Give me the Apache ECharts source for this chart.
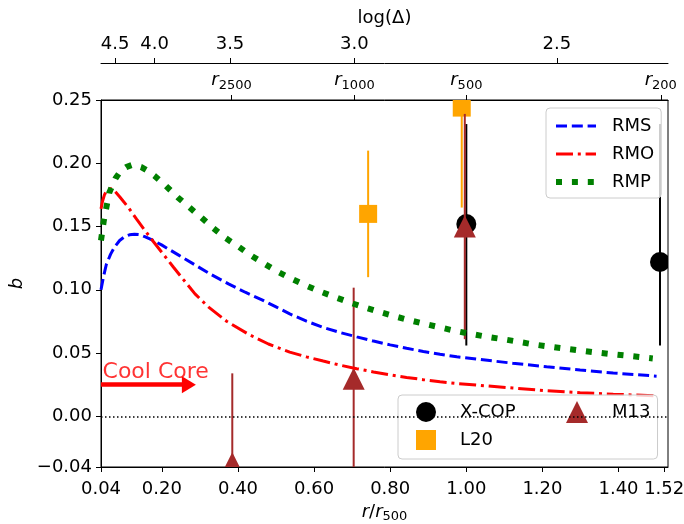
<!DOCTYPE html>
<html><head><meta charset="utf-8">
<script src="https://cdn.jsdelivr.net/npm/echarts@6/dist/echarts.min.js"></script>
<style>html,body{margin:0;padding:0;background:#fff}#c{width:684px;height:524px}</style>
</head><body><div id="c"></div>
<script>
// ---- data ----
const rmsX = [0.040,0.047,0.054,0.065,0.076,0.089,0.102,0.115,0.128,0.141,0.155,0.177,0.199,0.243,0.287,0.331,0.375,0.419,0.463,0.500,0.536,0.580,0.624,0.668,0.712,0.756,0.800,0.843,0.887,0.931,0.975,1.035,1.122,1.211,1.299,1.386,1.500];
const rmsY = [0.100,0.111,0.120,0.128,0.134,0.139,0.142,0.1435,0.144,0.1436,0.142,0.139,0.1355,0.1276,0.1197,0.1118,0.1047,0.0981,0.0921,0.0865,0.0810,0.0752,0.0703,0.0663,0.0628,0.0595,0.0565,0.0538,0.0513,0.0491,0.0471,0.0450,0.0420,0.0392,0.0366,0.0343,0.0318];
const rmoX = [0.040,0.044,0.049,0.056,0.065,0.076,0.089,0.112,0.134,0.156,0.178,0.204,0.230,0.256,0.287,0.322,0.370,0.430,0.480,0.536,0.580,0.624,0.668,0.712,0.756,0.800,0.843,0.887,0.931,0.975,1.035,1.122,1.211,1.299,1.386,1.500];
const rmoY = [0.164,0.170,0.175,0.179,0.180,0.178,0.1736,0.165,0.1557,0.1467,0.138,0.128,0.118,0.1083,0.0968,0.0865,0.0752,0.0645,0.0572,0.0508,0.0470,0.0437,0.0405,0.0377,0.0351,0.0328,0.0308,0.0290,0.0274,0.0260,0.0245,0.0224,0.0203,0.0187,0.0175,0.0163];
const rmpX = [0.040,0.047,0.054,0.062,0.078,0.092,0.106,0.125,0.146,0.163,0.181,0.211,0.242,0.273,0.304,0.334,0.367,0.402,0.435,0.470,0.505,0.542,0.578,0.617,0.657,0.695,0.734,0.774,0.813,0.853,0.892,0.933,0.973,1.015,1.052,1.096,1.136,1.178,1.220,1.261,1.301,1.342,1.384,1.424,1.465,1.490];
const rmpY = [0.139,0.154,0.165,0.177,0.188,0.194,0.197,0.199,0.197,0.194,0.190,0.182,0.173,0.165,0.157,0.149,0.141,0.134,0.127,0.1205,0.1142,0.1085,0.1035,0.0985,0.0940,0.0898,0.086,0.0823,0.079,0.0758,0.073,0.0702,0.0674,0.065,0.063,0.061,0.059,0.0568,0.0551,0.0535,0.0520,0.0505,0.0491,0.0479,0.0466,0.0458];

const xcopX = [1.000, 1.509];
const xcopY = [0.152, 0.122];
const xcopMinus = [0.096, 0.066];
const xcopPlus = [0.079, 0.109];

const l20X = [0.742, 0.988];
const l20Y = [0.160, 0.244];
const l20Minus = [0.050, 0.079];
const l20Plus = [0.050, 0.079];

const m13X = [0.385, 0.704, 0.996];
const m13Y = [-0.037, 0.0297, 0.150];
const m13Minus = [0.071, 0.072, 0.089];
const m13Plus = [0.071, 0.072, 0.089];

const xTickVals = [0.04, 0.20, 0.40, 0.60, 0.80, 1.00, 1.20, 1.40, 1.52];
const xTickLabels = ['0.04','0.20','0.40','0.60','0.80','1.00','1.20','1.40','1.52'];
const yTickVals = [-0.04, 0.00, 0.05, 0.10, 0.15, 0.20, 0.25];
const yTickLabels = ['\u22120.04','0.00','0.05','0.10','0.15','0.20','0.25'];
const logTickPos = [0.077, 0.181, 0.379, 0.706, 1.238];
const logTickLabels = ['4.5','4.0','3.5','3.0','2.5'];
const rTickPos = [0.383, 0.706, 1.000, 1.511];
const rTickLabels = ['2500','1000','500','200'];

const coolCoreText = {x: 0.044, y: 0.0345, text: 'Cool Core'};
const coolCoreArrow = {x0: 0.04, x1: 0.271, y: 0.025};

const xMin = 0.04, xMax = 1.53, yMin = -0.04, yMax = 0.25;

// ---- chart ----
const FONT = 'DejaVu Sans';
const zip = (a, b) => a.map((v, i) => [v, b[i]]);
const lookup = (vals, labels) => (v) => { const i = vals.findIndex(t => Math.abs(t - v) < 1e-9); return i >= 0 ? labels[i] : ''; };

const richSub = {
  i: {fontFamily: FONT, fontStyle: 'italic', fontSize: 18, color: '#000', lineHeight: 18, padding: [0,0,5,0]},
  n: {fontFamily: FONT, fontSize: 18, color: '#000', lineHeight: 18, padding: [0,0,5,0]},
  s: {fontFamily: FONT, fontSize: 13, color: '#000', lineHeight: 13, verticalAlign: 'bottom'}
};

const blueStyle = {color: '#0000ff', width: 3, type: [11, 4.8]};
const redStyle = {color: '#ff0000', width: 3, type: [17, 4.8, 3, 4.8]};
const greenStyle = {color: '#008000', width: 6, type: [6, 9.9], cap: 'butt'};

function errorSeries(name, xs, ys, minus, plus, color, marker) {
  return {
    name: name, type: 'custom', clip: true,
    itemStyle: {color: color},
    encode: {x: 0, y: 1},
    data: xs.map((x, i) => [x, ys[i], ys[i] - minus[i], ys[i] + plus[i]]),
    renderItem: function (params, api) {
      const c = api.coord([api.value(0), api.value(1)]);
      const lo = api.coord([api.value(0), api.value(2)]);
      const hi = api.coord([api.value(0), api.value(3)]);
      let m;
      if (marker === 'circle') m = {type: 'circle', shape: {cx: c[0], cy: c[1], r: 10}, style: {fill: color}};
      else if (marker === 'rect') m = {type: 'rect', shape: {x: c[0] - 9, y: c[1] - 9, width: 18, height: 18}, style: {fill: color}};
      else m = {type: 'polygon', shape: {points: [[c[0], c[1] - 11], [c[0] - 11, c[1] + 11], [c[0] + 11, c[1] + 11]]}, style: {fill: color}};
      return {type: 'group', children: [
        {type: 'line', shape: {x1: lo[0], y1: lo[1], x2: hi[0], y2: hi[1]}, style: {stroke: color, lineWidth: 2}},
        m
      ]};
    }
  };
}

const axisCommon = {
  axisLine: {show: true, onZero: false, lineStyle: {color: '#000', width: 1}},
  splitLine: {show: false},
};
const hiddenSym = {color: 'rgba(0,0,0,0)', borderColor: 'rgba(0,0,0,0)', borderWidth: 0};

const chart = echarts.init(document.getElementById('c'), null, {renderer: 'canvas'});
chart.setOption({
  animation: false,
  backgroundColor: '#fff',
  textStyle: {fontFamily: FONT},
  grid: {left: 101, right: 16, top: 100, bottom: 57, containLabel: false, outerBoundsMode: 'none',
    show: true, borderColor: '#000', borderWidth: 1, backgroundColor: 'transparent'},
  xAxis: [
    Object.assign({}, axisCommon, {
      type: 'value', position: 'bottom', min: xMin, max: xMax,
      axisTick: {show: true, length: 5, lineStyle: {color: '#000'}, customValues: xTickVals},
      axisLabel: {customValues: xTickVals, formatter: lookup(xTickVals, xTickLabels), fontFamily: FONT, fontSize: 18, color: '#000', margin: 13},
      name: '{i|r}{n|/}{i|r}{s|500}', nameLocation: 'middle', nameGap: 37,
      nameTextStyle: {rich: richSub}
    }),
    Object.assign({}, axisCommon, {
      type: 'value', position: 'top', offset: 37, min: xMin, max: xMax,
      axisTick: {show: true, length: 5, lineStyle: {color: '#000'}, customValues: logTickPos},
      axisLabel: {customValues: logTickPos, formatter: lookup(logTickPos, logTickLabels), fontFamily: FONT, fontSize: 18, color: '#000', margin: 10},
      name: 'log(\u0394)', nameLocation: 'middle', nameGap: 36,
      nameTextStyle: {fontFamily: FONT, fontSize: 18, color: '#000'}
    }),
    Object.assign({}, axisCommon, {
      type: 'value', position: 'top', offset: 0, min: xMin, max: xMax,
      axisTick: {show: true, length: 5, lineStyle: {color: '#000'}, customValues: rTickPos},
      axisLabel: {customValues: rTickPos, formatter: function (v) { return '{i|r}{s|' + lookup(rTickPos, rTickLabels)(v) + '}'; }, rich: richSub, margin: 8}
    })
  ],
  yAxis: [
    Object.assign({}, axisCommon, {
      type: 'value', min: yMin, max: yMax,
      axisTick: {show: true, length: 5, lineStyle: {color: '#000'}, customValues: yTickVals},
      axisLabel: {customValues: yTickVals, formatter: lookup(yTickVals, yTickLabels), fontFamily: FONT, fontSize: 18, color: '#000', margin: 9},
      name: 'b', nameLocation: 'middle', nameGap: 58,
      nameTextStyle: {fontFamily: FONT, fontStyle: 'italic', fontSize: 18, color: '#000'}
    })
  ],
  legend: [
    {
      data: [
        {name: 'RMS', itemStyle: hiddenSym, lineStyle: blueStyle},
        {name: 'RMO', itemStyle: hiddenSym, lineStyle: redStyle},
        {name: 'RMP', itemStyle: hiddenSym, lineStyle: greenStyle}
      ],
      orient: 'vertical', left: 546, top: 108,
      padding: [8, 7, 6, 7], itemWidth: 40, itemHeight: 20, itemGap: 8,
      itemStyle: hiddenSym,
      backgroundColor: 'rgba(255,255,255,0.8)', borderColor: '#cccccc', borderWidth: 1, borderRadius: 4,
      textStyle: {fontFamily: FONT, fontSize: 18, color: '#000', lineHeight: 20, padding: [0, 0, 0, 11]}
    },
    {
      data: [{name: 'X-COP', icon: 'circle'}, {name: 'L20', icon: 'rect'}], orient: 'vertical', left: 398, top: 395,
      padding: [7, 142, 9, 18], itemWidth: 20, itemHeight: 20, itemGap: 8,
      backgroundColor: 'rgba(255,255,255,0.8)', borderColor: '#cccccc', borderWidth: 1, borderRadius: 4,
      textStyle: {fontFamily: FONT, fontSize: 18, color: '#000', lineHeight: 20, padding: [0, 0, 0, 19]}
    },
    {
      data: [{name: 'M13', icon: 'triangle'}], orient: 'vertical', left: 566, top: 401,
      padding: 0, itemWidth: 22, itemHeight: 22,
      textStyle: {fontFamily: FONT, fontSize: 18, color: '#000', lineHeight: 22, padding: [0, 0, 0, 19]}
    }
  ],
  series: [
    {
      name: 'zero', type: 'scatter', data: [], silent: true,
      markLine: {
        silent: true, symbol: ['none', 'none'], label: {show: false},
        lineStyle: {color: '#000', type: [1.5, 2.5], width: 1.5},
        data: [{yAxis: 0}]
      }
    },
    {
      name: 'RMS', type: 'line', data: zip(rmsX, rmsY), showSymbol: false, symbol: 'none',
      lineStyle: blueStyle, itemStyle: {color: '#0000ff'}
    },
    {
      name: 'RMO', type: 'line', data: zip(rmoX, rmoY), showSymbol: false, symbol: 'none',
      lineStyle: redStyle, itemStyle: {color: '#ff0000'}
    },
    {
      name: 'RMP', type: 'line', data: zip(rmpX, rmpY), showSymbol: false, symbol: 'none',
      lineStyle: greenStyle, itemStyle: {color: '#008000'}
    },
    errorSeries('X-COP', xcopX, xcopY, xcopMinus, xcopPlus, '#000000', 'circle'),
    errorSeries('L20', l20X, l20Y, l20Minus, l20Plus, '#ffa500', 'rect'),
    errorSeries('M13', m13X, m13Y, m13Minus, m13Plus, '#a52a2a', 'triangle'),
    {
      name: 'coolcore', type: 'scatter', silent: true, symbolSize: 0,
      data: [[coolCoreText.x, coolCoreText.y]],
      label: {show: true, position: 'right', distance: 0, formatter: coolCoreText.text,
        fontFamily: FONT, fontSize: 22, color: '#ff0000'},
      markLine: {
        silent: true, label: {show: false}, symbol: ['none', 'triangle'], symbolSize: [17, 14],
        lineStyle: {color: '#ff0000', type: 'solid', width: 4.5},
        data: [[{coord: [coolCoreArrow.x0, coolCoreArrow.y]}, {coord: [coolCoreArrow.x1, coolCoreArrow.y]}]]
      }
    }
  ]
});
</script></body></html>
